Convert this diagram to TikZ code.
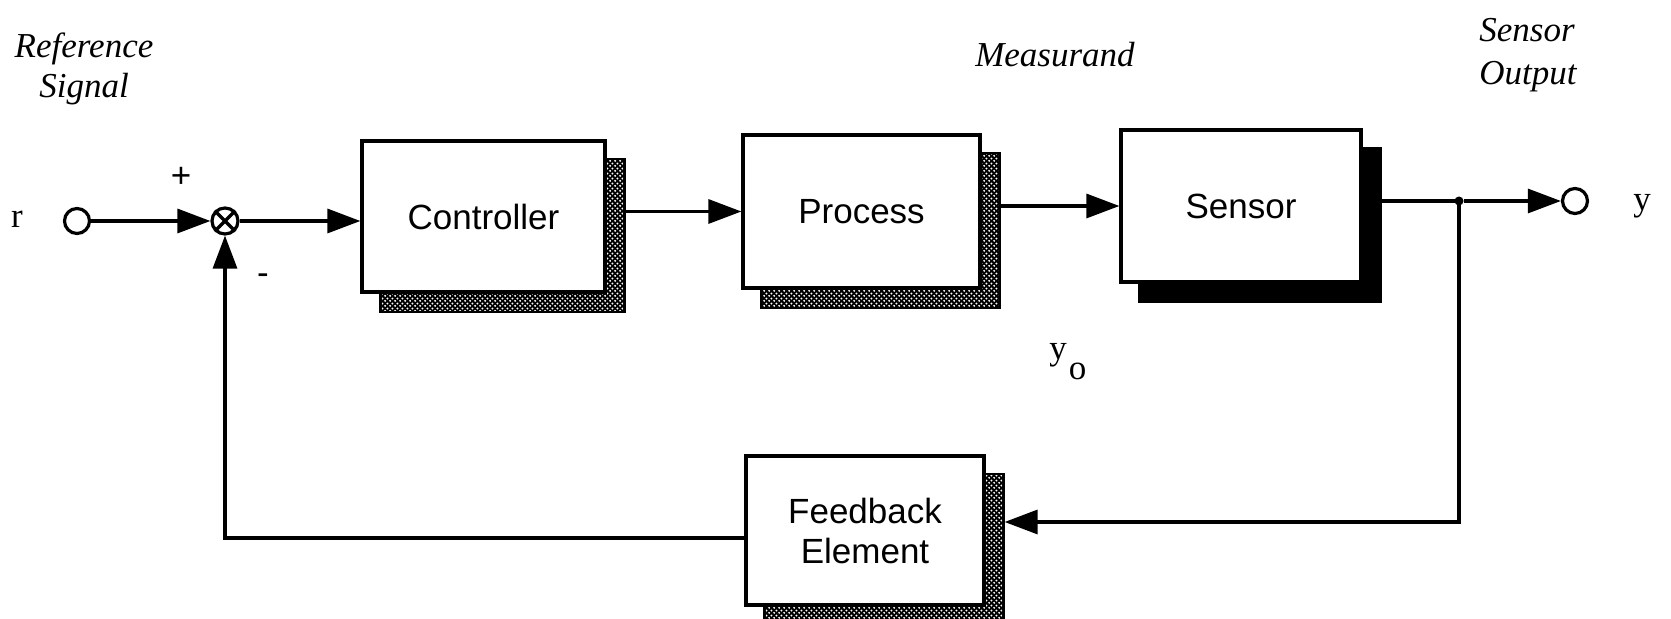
\documentclass[tikz,border=0pt]{standalone}
\usepackage{fontspec}
\setmainfont{Liberation Serif}
\newfontfamily\helv{Liberation Sans}
\usetikzlibrary{arrows.meta,calc,patterns.meta}

\pgfdeclarelayer{wires}
\pgfdeclarelayer{shades}
\pgfsetlayers{wires,shades,main}

% coarse grid of dots used for the stippled drop shadows
\pgfdeclarepattern{
  name=dotgrid, type=uncolored,
  bottom left={\pgfpoint{0pt}{0pt}},
  top right={\pgfpoint{2.4pt}{2.4pt}},
  tile size={\pgfpoint{2.4pt}{2.4pt}},
  code={
    \pgfpathcircle{\pgfpoint{0.6pt}{0.6pt}}{0.55pt}
    \pgfpathcircle{\pgfpoint{1.8pt}{1.8pt}}{0.55pt}
    \pgfusepath{fill}
  }
}

\tikzset{
  wire/.style={line width=1.6pt},
  arr/.style={wire, -{Triangle[length=16.5pt,width=12pt]}},
  block/.style={draw, line width=1.6pt, fill=white, align=center, inner sep=0pt,
    font=\helv\fontsize{17.5}{20}\selectfont},
  term/.style={circle, draw, line width=1.6pt, fill=white, minimum size=12.5pt, inner sep=0pt},
  sumjn/.style={circle, draw, line width=1.6pt, fill=white, minimum size=13pt, inner sep=0pt},
  tapdot/.style={circle, fill=black, minimum size=4.5pt, inner sep=0pt},
  note/.style={font=\itshape\fontsize{17.5}{20}\selectfont, inner sep=0pt},
  sym/.style={font=\fontsize{17.5}{20}\selectfont, inner sep=0pt},
  sign/.style={font=\helv\fontsize{17.5}{20}\selectfont, inner sep=0pt},
}

% stippled shadow behind a block
\newcommand\stippleshadow[1]{%
  \begin{pgfonlayer}{shades}
    \fill[black] ($(#1.south west)+(19,19)$) rectangle ($(#1.north east)+(19,19)$);
    \fill[pattern=dotgrid, pattern color=white]
      ($(#1.south west)+(21.5,16.5)$) rectangle ($(#1.north east)+(16.5,21.5)$);
  \end{pgfonlayer}}
% solid black shadow behind a block
\newcommand\solidshadow[1]{%
  \begin{pgfonlayer}{shades}
    \fill[black] ($(#1.south west)+(19,19)$) rectangle ($(#1.north east)+(19,19)$);
  \end{pgfonlayer}}

\begin{document}
\begin{tikzpicture}[x=0.5pt,y=-0.5pt]
\useasboundingbox (0,0) rectangle (1671,619);

% blocks
\node[block, minimum width=121.5pt, minimum height=75.5pt] (ctrl) at (483.5,216.5) {Controller};
\node[block, minimum width=118.5pt, minimum height=76.5pt] (proc) at (861.5,211.5) {Process};
\node[block, minimum width=120pt, minimum height=76pt] (sens) at (1241,206) {Sensor};
\node[block, minimum width=119pt, minimum height=74.5pt] (fb) at (865,530.5) {Feedback\\Element};

\stippleshadow{ctrl}
\stippleshadow{proc}
\solidshadow{sens}
\stippleshadow{fb}

% terminals and junctions
\node[term] (rin) at (77,221) {};
\node[sumjn] (sum) at (225,221) {};
\draw[wire] (sum.north west) -- (sum.south east) (sum.north east) -- (sum.south west);
\node[tapdot] (tap) at (1459,201) {};
\node[term] (yout) at (1575,201) {};
\coordinate (fbin) at ($(fb.east)+(19,-8.5)$);
\coordinate (fbout) at ($(fb.west)+(0,7.5)$);

% forward path
\draw[arr] (rin) -- (sum);
\draw[arr] (sum) -- (sum -| ctrl.west);
\begin{pgfonlayer}{wires}
  \draw[arr] (ctrl.east |- proc) -- (proc.west);
  \draw[arr] (proc.east |- sens) -- (sens.west);
  \draw[wire] (sens.east |- tap) -- (tap.center);
\end{pgfonlayer}
\draw[arr] (tap) -- (yout);

% feedback path
\draw[arr] (tap.center) |- (fbin);
\draw[arr] (fbout) -| (sum);

% labels
\node[note, align=center] (refsig) at (84,69) {Reference\\Signal};
\node[note] (meas) at (1055,55) {Measurand};
\node[note, align=left, anchor=west, font=\itshape\fontsize{17.5}{21.5}\selectfont] (sout) at (1479,55) {Sensor\\Output};
\node[sym, anchor=base] (rlab) at (17,228) {r};
\node[sym, anchor=base] (ylab) at (1642,211) {y};
\node[sym, anchor=base west] (yolab) at (1049,360) {y\kern1pt\raisebox{-10pt}{o}};
\node[sign] (plus) at (181,177) {+};
\node[sign] (minus) at (263,279) {-};
\end{tikzpicture}
\end{document}
